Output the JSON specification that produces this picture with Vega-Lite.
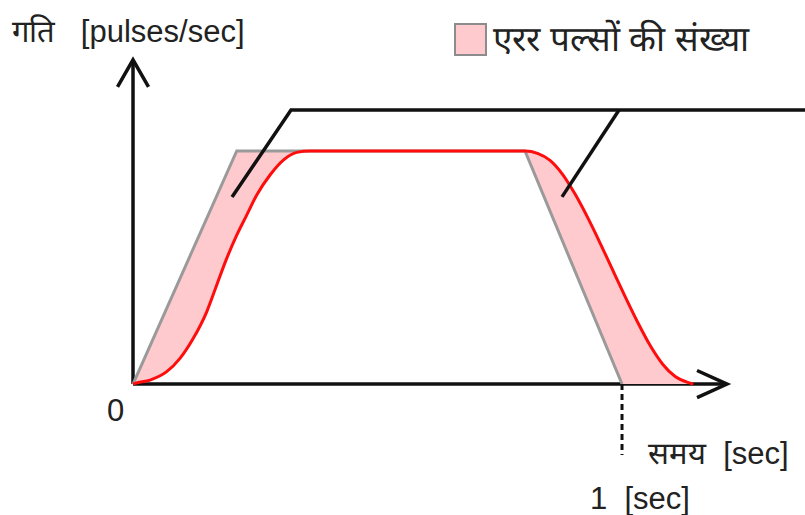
{
  "$schema": "https://vega.github.io/schema/vega-lite/v6.json",
  "width": 805,
  "height": 515,
  "autosize": {"type": "none"},
  "padding": 0,
  "background": "white",
  "config": {"view": {"stroke": null}},
  "datasets": {
    "fill": [
      {"t": 0, "cmd": 0, "act": 0, "kind": "एरर पल्सों की संख्या"},
      {"t": 0.0348, "cmd": 16.4, "act": 1.7, "kind": "एरर पल्सों की संख्या"},
      {"t": 0.0689, "cmd": 32.5, "act": 5.3, "kind": "एरर पल्सों की संख्या"},
      {"t": 0.0961, "cmd": 45.3, "act": 11.0, "kind": "एरर पल्सों की संख्या"},
      {"t": 0.1233, "cmd": 58.2, "act": 19.6, "kind": "एरर पल्सों की संख्या"},
      {"t": 0.1507, "cmd": 71.1, "act": 31.0, "kind": "एरर पल्सों की संख्या"},
      {"t": 0.1712, "cmd": 80.8, "act": 42.5, "kind": "एरर पल्सों की संख्या"},
      {"t": 0.1916, "cmd": 90.4, "act": 53.9, "kind": "एरर पल्सों की संख्या"},
      {"t": 0.2121, "cmd": 100, "act": 63.9, "kind": "एरर पल्सों की संख्या"},
      {"t": 0.2325, "cmd": 100, "act": 72.5, "kind": "एरर पल्सों की संख्या"},
      {"t": 0.253, "cmd": 100, "act": 81.1, "kind": "एरर पल्सों की संख्या"},
      {"t": 0.2802, "cmd": 100, "act": 89.7, "kind": "एरर पल्सों की संख्या"},
      {"t": 0.3074, "cmd": 100, "act": 96.1, "kind": "एरर पल्सों की संख्या"},
      {"t": 0.3348, "cmd": 100, "act": 99.4, "kind": "एरर पल्सों की संख्या"},
      {"t": 0.362, "cmd": 100, "act": 100, "kind": "एरर पल्सों की संख्या"},
      {"t": 0.8016, "cmd": 100, "act": 100, "kind": "एरर पल्सों की संख्या"},
      {"t": 0.8272, "cmd": 87.1, "act": 99.0, "kind": "एरर पल्सों की संख्या"},
      {"t": 0.8528, "cmd": 74.2, "act": 96.0, "kind": "एरर पल्सों की संख्या"},
      {"t": 0.8784, "cmd": 61.3, "act": 90.0, "kind": "एरर पल्सों की संख्या"},
      {"t": 0.904, "cmd": 48.4, "act": 81.5, "kind": "एरर पल्सों की संख्या"},
      {"t": 0.9296, "cmd": 35.5, "act": 71.5, "kind": "एरर पल्सों की संख्या"},
      {"t": 0.9552, "cmd": 22.6, "act": 60.5, "kind": "एरर पल्सों की संख्या"},
      {"t": 0.9808, "cmd": 9.7, "act": 49.0, "kind": "एरर पल्सों की संख्या"},
      {"t": 1.0, "cmd": 0, "act": 40.4, "kind": "एरर पल्सों की संख्या"},
      {"t": 1.0064, "cmd": 0, "act": 37.5, "kind": "एरर पल्सों की संख्या"},
      {"t": 1.032, "cmd": 0, "act": 26.5, "kind": "एरर पल्सों की संख्या"},
      {"t": 1.0576, "cmd": 0, "act": 16.5, "kind": "एरर पल्सों की संख्या"},
      {"t": 1.0832, "cmd": 0, "act": 8.5, "kind": "एरर पल्सों की संख्या"},
      {"t": 1.1088, "cmd": 0, "act": 3.2, "kind": "एरर पल्सों की संख्या"},
      {"t": 1.1344, "cmd": 0, "act": 0.7, "kind": "एरर पल्सों की संख्या"},
      {"t": 1.1458, "cmd": 0, "act": 0, "kind": "एरर पल्सों की संख्या"}
    ],
    "cmd": [
      {"t": 0, "v": 0},
      {"t": 0.2121, "v": 100},
      {"t": 0.8016, "v": 100},
      {"t": 1.0, "v": 0}
    ],
    "act": [
      {"t": 0, "v": 0},
      {"t": 0.0041, "v": 0.3},
      {"t": 0.0348, "v": 1.7},
      {"t": 0.0689, "v": 5.3},
      {"t": 0.0961, "v": 11.0},
      {"t": 0.1233, "v": 19.6},
      {"t": 0.1507, "v": 31.0},
      {"t": 0.1712, "v": 42.5},
      {"t": 0.1916, "v": 53.9},
      {"t": 0.2121, "v": 63.9},
      {"t": 0.2325, "v": 72.5},
      {"t": 0.253, "v": 81.1},
      {"t": 0.2802, "v": 89.7},
      {"t": 0.3074, "v": 96.1},
      {"t": 0.3348, "v": 99.4},
      {"t": 0.362, "v": 100},
      {"t": 0.8016, "v": 100},
      {"t": 0.8272, "v": 99.0},
      {"t": 0.8528, "v": 96.0},
      {"t": 0.8784, "v": 90.0},
      {"t": 0.904, "v": 81.5},
      {"t": 0.9296, "v": 71.5},
      {"t": 0.9552, "v": 60.5},
      {"t": 0.9808, "v": 49.0},
      {"t": 1.0064, "v": 37.5},
      {"t": 1.032, "v": 26.5},
      {"t": 1.0576, "v": 16.5},
      {"t": 1.0832, "v": 8.5},
      {"t": 1.1088, "v": 3.2},
      {"t": 1.1344, "v": 0.7},
      {"t": 1.1458, "v": 0}
    ],
    "strokes": [
      {"seg": "yaxis", "i": 0, "t": 0, "v": 0},
      {"seg": "yaxis", "i": 1, "t": 0, "v": 139.1},
      {"seg": "yarrow", "i": 0, "t": -0.0317, "v": 127.5},
      {"seg": "yarrow", "i": 1, "t": 0, "v": 139.1},
      {"seg": "yarrow", "i": 2, "t": 0.0317, "v": 127.5},
      {"seg": "xaxis", "i": 0, "t": 0, "v": 0},
      {"seg": "xaxis", "i": 1, "t": 1.2147, "v": 0},
      {"seg": "xarrow", "i": 0, "t": 1.1534, "v": 5.8},
      {"seg": "xarrow", "i": 1, "t": 1.2147, "v": 0},
      {"seg": "xarrow", "i": 2, "t": 1.1534, "v": -5.8}
    ],
    "leaders": [
      {"seg": "lead1", "i": 0, "t": 0.2025, "v": 80.3},
      {"seg": "lead1", "i": 1, "t": 0.3231, "v": 117.6},
      {"seg": "lead1", "i": 2, "t": 1.38, "v": 117.6},
      {"seg": "lead2", "i": 0, "t": 0.8773, "v": 80.3},
      {"seg": "lead2", "i": 1, "t": 0.9939, "v": 117.6}
    ],
    "dash": [
      {"t": 1.0, "v": 0},
      {"t": 1.0, "v": -30.5}
    ],
    "labels": [
      {"label": "गति\u00a0\u00a0\u00a0[pulses/sec]", "t": -0.2474, "v": 150.6},
      {"label": "0", "t": -0.0532, "v": -12.0},
      {"label": "समय\u00a0\u00a0[sec]", "t": 1.0532, "v": -30.5},
      {"label": "1\u00a0\u00a0[sec]", "t": 0.9346, "v": -49.8}
    ]
  },
  "layer": [
    {
      "data": {"name": "strokes"},
      "mark": {"type": "line", "color": "#111111", "strokeWidth": 3.5, "strokeJoin": "miter", "strokeCap": "butt"},
      "encoding": {
        "x": {"field": "t", "type": "quantitative", "scale": {"domain": [-0.272, 1.3742], "nice": false, "zero": false}, "axis": null},
        "y": {"field": "v", "type": "quantitative", "scale": {"domain": [-56.2, 164.8], "nice": false, "zero": false}, "axis": null},
        "detail": {"field": "seg"},
        "order": {"field": "i"}
      }
    },
    {
      "data": {"name": "fill"},
      "mark": {"type": "area", "opacity": 1},
      "encoding": {
        "x": {"field": "t", "type": "quantitative"},
        "y": {"field": "cmd", "type": "quantitative"},
        "y2": {"field": "act"},
        "color": {
          "field": "kind",
          "type": "nominal",
          "scale": {"range": ["#ffcacd"]},
          "legend": {
            "orient": "none",
            "legendX": 453,
            "legendY": 22,
            "title": null,
            "padding": 0,
            "symbolType": "square",
            "symbolSize": 960,
            "symbolStrokeColor": "#8c8c8c",
            "symbolStrokeWidth": 2,
            "symbolOpacity": 1,
            "labelFont": "Liberation Sans",
            "labelFontSize": 35,
            "labelColor": "#222222",
            "labelOffset": 5,
            "labelLimit": 500
          }
        }
      }
    },
    {
      "data": {"name": "cmd"},
      "mark": {"type": "line", "color": "#9a9a9a", "strokeWidth": 3, "strokeJoin": "miter"},
      "encoding": {
        "x": {"field": "t", "type": "quantitative"},
        "y": {"field": "v", "type": "quantitative"}
      }
    },
    {
      "data": {"name": "act"},
      "mark": {"type": "line", "color": "#ff0d0d", "strokeWidth": 3, "interpolate": "monotone"},
      "encoding": {
        "x": {"field": "t", "type": "quantitative"},
        "y": {"field": "v", "type": "quantitative"}
      }
    },
    {
      "data": {"name": "leaders"},
      "mark": {"type": "line", "color": "#111111", "strokeWidth": 3.5, "strokeJoin": "miter"},
      "encoding": {
        "x": {"field": "t", "type": "quantitative"},
        "y": {"field": "v", "type": "quantitative"},
        "detail": {"field": "seg"},
        "order": {"field": "i"}
      }
    },
    {
      "data": {"name": "dash"},
      "mark": {"type": "line", "color": "#111111", "strokeWidth": 3, "strokeDash": [6, 4]},
      "encoding": {
        "x": {"field": "t", "type": "quantitative"},
        "y": {"field": "v", "type": "quantitative"}
      }
    },
    {
      "data": {"name": "labels"},
      "mark": {"type": "text", "align": "left", "baseline": "middle", "font": "Liberation Sans", "fontSize": 31, "color": "#222222"},
      "encoding": {
        "x": {"field": "t", "type": "quantitative"},
        "y": {"field": "v", "type": "quantitative"},
        "text": {"field": "label"}
      }
    }
  ]
}
